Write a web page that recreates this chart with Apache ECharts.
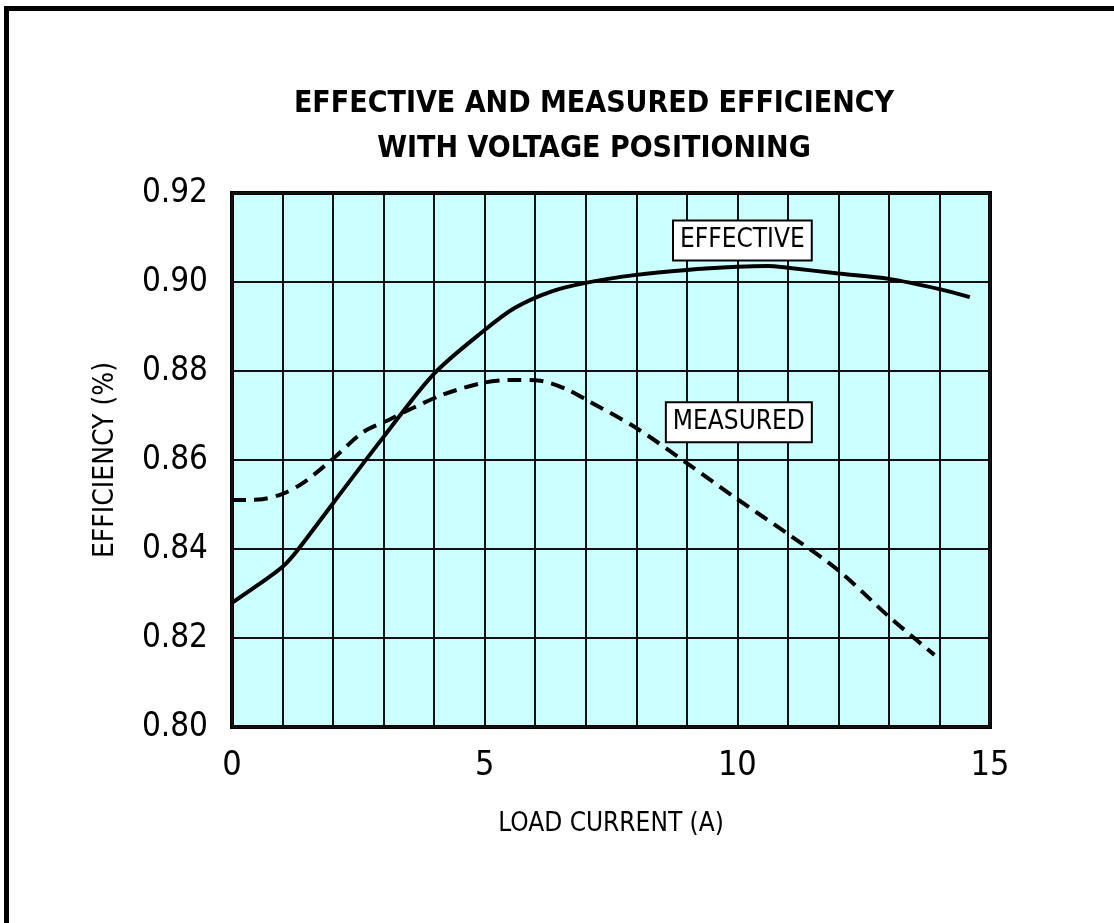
<!DOCTYPE html>
<html>
<head>
<meta charset="utf-8">
<title>Effective and measured efficiency</title>
<script src="https://cdn.jsdelivr.net/npm/echarts@6/dist/echarts.min.js"></script>
<style>
  html, body { margin: 0; padding: 0; background: #fff; }
  #main { width: 1114px; height: 923px; }
</style>
</head>
<body>
<div id="main"></div>
<script>
// data
var effX = [0, 0.5, 1, 1.3, 2, 3, 4, 5, 5.6, 6.3, 7, 8, 9, 10, 10.6, 11, 12, 13, 14, 14.6];
var effY = [0.8279, 0.8318, 0.8360, 0.8398, 0.8503, 0.8652, 0.8794, 0.8892, 0.8942, 0.8978, 0.8998, 0.9016, 0.9027, 0.9034, 0.9036, 0.9032, 0.9019, 0.9007, 0.8984, 0.8966];
var measX = [0, 0.6, 1, 1.4, 2, 2.6, 3.1, 3.6, 4.2, 5, 5.6, 6.1, 6.6, 7, 8, 9, 10, 11, 12, 13, 13.9];
var measY = [0.851, 0.8512, 0.8524, 0.8548, 0.8603, 0.8663, 0.869, 0.8718, 0.8748, 0.8774, 0.878, 0.8778, 0.876, 0.8736, 0.8672, 0.8593, 0.8512, 0.8434, 0.8352, 0.8248, 0.8162];
var xTicks = [0, 5, 10, 15];
var yTicks = [0.80, 0.82, 0.84, 0.86, 0.88, 0.90, 0.92];
var effLabelAt = [10.1, 0.9093];
var measLabelAt = [10.03, 0.8685];

var FONT = '"Liberation Sans Narrow", "DejaVu Sans Condensed", "Liberation Sans", sans-serif';

function pairs(xs, ys) {
    var out = [];
    for (var i = 0; i < xs.length; i++) {
        out.push([xs[i], ys[i]]);
    }
    return out;
}

var boxLabel = {
    show: true,
    position: 'inside',
    fontFamily: FONT,
    fontSize: 26,
    color: '#000',
    backgroundColor: '#fff',
    borderColor: '#000',
    borderWidth: 2,
    padding: [7, 6, 5, 6]
};

var myChart = echarts.init(document.getElementById('main'));
myChart.setOption({
    animation: false,
    backgroundColor: '#fff',
    title: {
        text: 'EFFECTIVE AND MEASURED EFFICIENCY\nWITH VOLTAGE POSITIONING',
        left: 589,
        top: 77,
        textAlign: 'center',
        textStyle: {
            fontFamily: FONT,
            fontWeight: 'bold',
            fontSize: 30,
            lineHeight: 45,
            color: '#000'
        }
    },
    // outer frame, top and left edges only
    graphic: [
        { type: 'rect', shape: { x: 4, y: 6, width: 1110, height: 5 }, style: { fill: '#000' } },
        { type: 'rect', shape: { x: 4, y: 6, width: 5, height: 917 }, style: { fill: '#000' } }
    ],
    grid: {
        left: 232,
        top: 193,
        right: 124,
        bottom: 196,
        show: true,
        backgroundColor: '#ccffff',
        borderColor: '#000',
        borderWidth: 4
    },
    xAxis: {
        type: 'value',
        min: xTicks[0],
        max: xTicks[xTicks.length - 1],
        interval: 5,
        name: 'LOAD CURRENT (A)',
        nameLocation: 'middle',
        nameGap: 84,
        nameTextStyle: { fontFamily: FONT, fontSize: 26, color: '#000' },
        axisLine: { show: false },
        axisTick: { show: false },
        axisLabel: { margin: 22, fontFamily: FONT, fontSize: 34, color: '#000' },
        splitLine: { show: true, lineStyle: { color: '#111', width: 2 } },
        minorTick: { show: false, splitNumber: 5 },
        minorSplitLine: { show: true, lineStyle: { color: '#111', width: 2 } }
    },
    yAxis: {
        type: 'value',
        min: yTicks[0],
        max: yTicks[yTicks.length - 1],
        interval: 0.02,
        name: 'EFFICIENCY (%)',
        nameLocation: 'middle',
        nameGap: 112,
        nameTextStyle: { fontFamily: FONT, fontSize: 28, color: '#000' },
        axisLine: { show: false },
        axisTick: { show: false },
        axisLabel: {
            margin: 24,
            fontFamily: FONT,
            fontSize: 33,
            color: '#000',
            formatter: function (v) { return v.toFixed(2); }
        },
        splitLine: { show: true, lineStyle: { color: '#111', width: 2 } }
    },
    series: [
        {
            name: 'EFFECTIVE',
            type: 'line',
            data: pairs(effX, effY),
            smooth: 0.3,
            showSymbol: false,
            lineStyle: { color: '#000', width: 4 },
            markPoint: {
                symbolSize: 0,
                data: [{ coord: effLabelAt, value: 'EFFECTIVE' }],
                label: Object.assign({ formatter: 'EFFECTIVE' }, boxLabel)
            }
        },
        {
            name: 'MEASURED',
            type: 'line',
            data: pairs(measX, measY),
            smooth: 0.3,
            showSymbol: false,
            lineStyle: { color: '#000', width: 4, type: [14, 8] },
            markPoint: {
                symbolSize: 0,
                data: [{ coord: measLabelAt, value: 'MEASURED' }],
                label: Object.assign({ formatter: 'MEASURED' }, boxLabel)
            }
        }
    ]
});
</script>
</body>
</html>
